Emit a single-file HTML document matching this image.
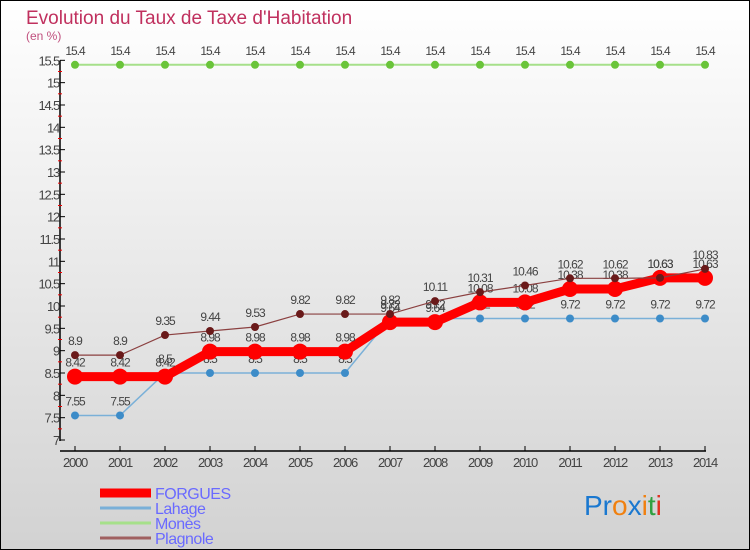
<!DOCTYPE html>
<html><head><meta charset="utf-8"><style>
body{margin:0}
#c{width:750px;height:550px;position:relative;box-sizing:border-box;border:1px solid #000;background:linear-gradient(#fff,#d2d2d2);font-family:"Liberation Sans",sans-serif;overflow:hidden}
</style></head><body>
<div id="c">
<svg id="s" width="750" height="550" style="position:absolute;left:-1px;top:-1px">
<text x="26" y="24" font-size="19" fill="#c0305e">Evolution du Taux de Taxe d'Habitation</text>
<text x="26" y="40" font-size="12" fill="#c0507e">(en %)</text>
</svg>
</div>
<script>
const years=[2000,2001,2002,2003,2004,2005,2006,2007,2008,2009,2010,2011,2012,2013,2014];
const forgues=[8.42,8.42,8.42,8.98,8.98,8.98,8.98,9.64,9.64,10.08,10.08,10.38,10.38,10.63,10.63];
const lahage=[7.55,7.55,8.5,8.5,8.5,8.5,8.5,9.72,9.72,9.72,9.72,9.72,9.72,9.72,9.72];
const mones=[15.4,15.4,15.4,15.4,15.4,15.4,15.4,15.4,15.4,15.4,15.4,15.4,15.4,15.4,15.4];
const plagnole=[8.9,8.9,9.35,9.44,9.53,9.82,9.82,9.82,10.11,10.31,10.46,10.62,10.62,10.63,10.83];
const yTicks=[7,7.5,8,8.5,9,9.5,10,10.5,11,11.5,12,12.5,13,13.5,14,14.5,15,15.5];
const s=document.getElementById('s');const NS='http://www.w3.org/2000/svg';
const X=i=>75+i*45, Y=v=>306-(v-10)*44.67;
function mk(t,a,p){const e=document.createElementNS(NS,t);for(const k in a)e.setAttribute(k,a[k]);(p||s).appendChild(e);return e;}
let ax=mk('line',{x1:60,y1:Y(15.5),x2:60,y2:Y(7)+1,stroke:'#000','stroke-width':1.5});

let bx=mk('line',{x1:60,y1:451,x2:706,y2:451,stroke:'#000','stroke-width':1.5});

yTicks.forEach(v=>{mk('line',{x1:60,x2:65,y1:Y(v),y2:Y(v),stroke:'#000'});
if(v<15.5)mk('line',{x1:58,x2:62,y1:Y(v+0.25),y2:Y(v+0.25),stroke:'#e00'});
const t=mk('text',{x:59,y:Y(v)+5,'text-anchor':'end','font-size':13,fill:'#444','letter-spacing':'-1.2'});t.textContent=v;
});
years.forEach((y,i)=>{mk('line',{x1:X(i),x2:X(i),y1:446,y2:451,stroke:'#000'});
const t=mk('text',{x:X(i),y:467,'text-anchor':'middle','font-size':13,fill:'#444','letter-spacing':'-1.2'});t.textContent=y;
});
function series(d,col,w,r,dot,name){const g=mk('g',{});
mk('polyline',{points:d.map((v,i)=>X(i)+','+Y(v)).join(' '),fill:'none',stroke:col,'stroke-width':w},g);
d.forEach((v,i)=>{const c=mk('circle',{cx:X(i),cy:Y(v),r:r,fill:dot},g);
const t=mk('text',{x:X(i),y:Y(v)-10,'text-anchor':'middle','font-size':12,fill:'#444','letter-spacing':'-1'},g);t.textContent=v;});}
series(mones,'#a6e08a',2,4,'#6ac43a','mones');
series(lahage,'#7ab0d8',1.5,4,'#3d8cc8','lahage');
series(forgues,'#f00',9,8,'#f00','forgues');
series(plagnole,'#8b4040',1.2,4,'#6a1a1a','plagnole');
const leg=[['FORGUES','#f00',9],['Lahage','#7ab0d8',3],['Monès','#a6e08a',3],['Plagnole','#a06060',3]];
leg.forEach((l,i)=>{const y=493+i*15;const g=mk('g',{});
mk('line',{x1:100,x2:151,y1:y,y2:y,stroke:l[1],'stroke-width':l[2]},g);
const t=mk('text',{x:155,y:y+6,'font-size':16,fill:'#6a6aff','letter-spacing':'-0.5'},g);t.textContent=l[0];});
const lg=mk('text',{x:584,y:515,'font-size':28});
[['Pr','#1a78d0'],['o','#f08010'],['x','#1a78d0'],['i','#f08010'],['t','#30a040'],['i','#e03020']].forEach(p=>{const ts=mk('tspan',{fill:p[1]},lg);ts.textContent=p[0];});
</script>
</body></html>
